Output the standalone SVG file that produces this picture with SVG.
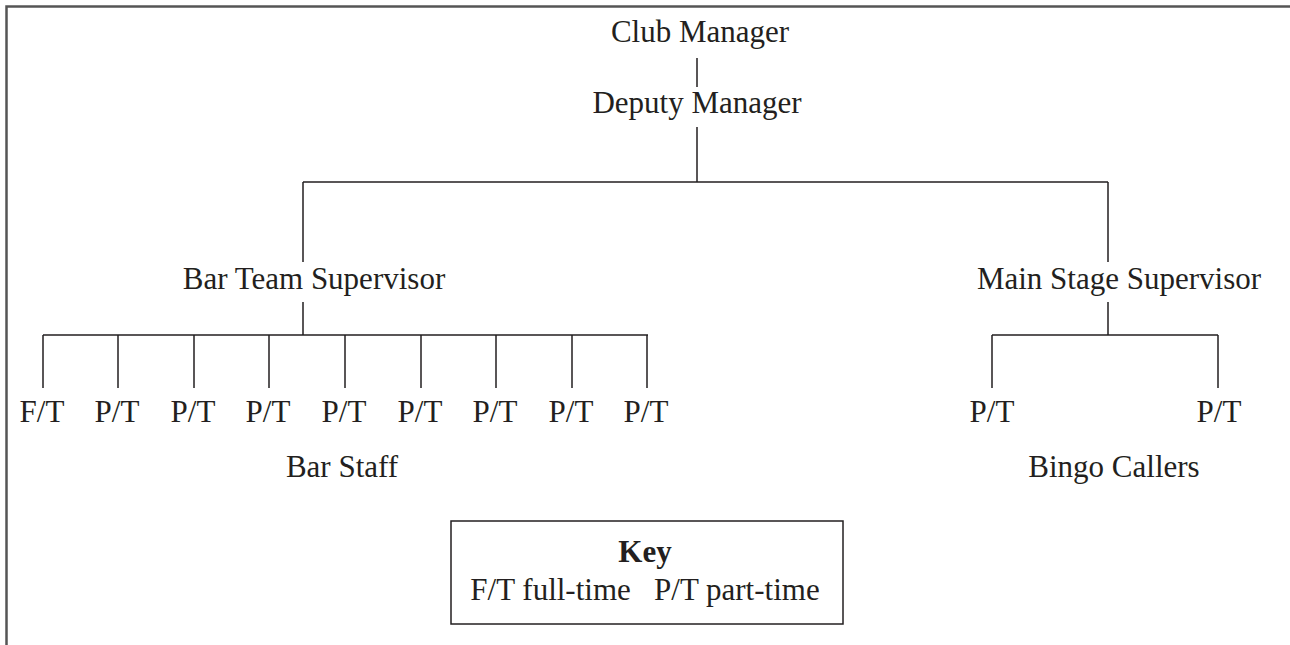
<svg xmlns="http://www.w3.org/2000/svg" width="1290" height="645" viewBox="0 0 1290 645">
<style>
text{font-family:"Liberation Serif","Times New Roman",serif;font-size:31px;fill:#231f20;text-anchor:middle}
.b{font-weight:bold}
.ln{stroke:#231f20;stroke-width:1.5;fill:none}
.frame{stroke:#555;stroke-width:2.5;fill:none}
</style>
<rect width="1290" height="645" fill="#fff"/>
<path class="frame" d="M6.5 645V6.5H1290"/>
<g id="connectors">
<path class="ln" d="M697 58V87M697 127V182M303 182H1108M303 182V262M1108 182V262"/>
<path class="ln" d="M303 302V335M43 335H648M43 335V388M118 335V388M194 335V388M269 335V388M345 335V388M421 335V388M496 335V388M572 335V388M647 335V388"/>
<path class="ln" d="M1108 302V335M992 335H1218M992 335V388M1218 335V388"/>
</g>
<g id="club-manager"><text x="700" y="42">Club Manager</text></g>
<g id="deputy-manager"><text x="697" y="113">Deputy Manager</text></g>
<g id="bar-team-supervisor"><text x="314" y="289">Bar Team Supervisor</text></g>
<g id="main-stage-supervisor"><text x="1119" y="289">Main Stage Supervisor</text></g>
<g id="bar-staff">
<text x="42" y="422">F/T</text>
<text x="117" y="422">P/T</text>
<text x="193" y="422">P/T</text>
<text x="268" y="422">P/T</text>
<text x="344" y="422">P/T</text>
<text x="420" y="422">P/T</text>
<text x="495" y="422">P/T</text>
<text x="571" y="422">P/T</text>
<text x="646" y="422">P/T</text>
<text x="342" y="477">Bar Staff</text>
</g>
<g id="bingo-callers">
<text x="992" y="422">P/T</text>
<text x="1219" y="422">P/T</text>
<text x="1114" y="477">Bingo Callers</text>
</g>
<g id="key">
<rect x="451" y="521" width="392" height="103" fill="none" stroke="#231f20" stroke-width="1.5"/>
<text class="b" x="645" y="562">Key</text>
<text x="645" y="600" xml:space="preserve">F/T full-time   P/T part-time</text>
</g>
</svg>
